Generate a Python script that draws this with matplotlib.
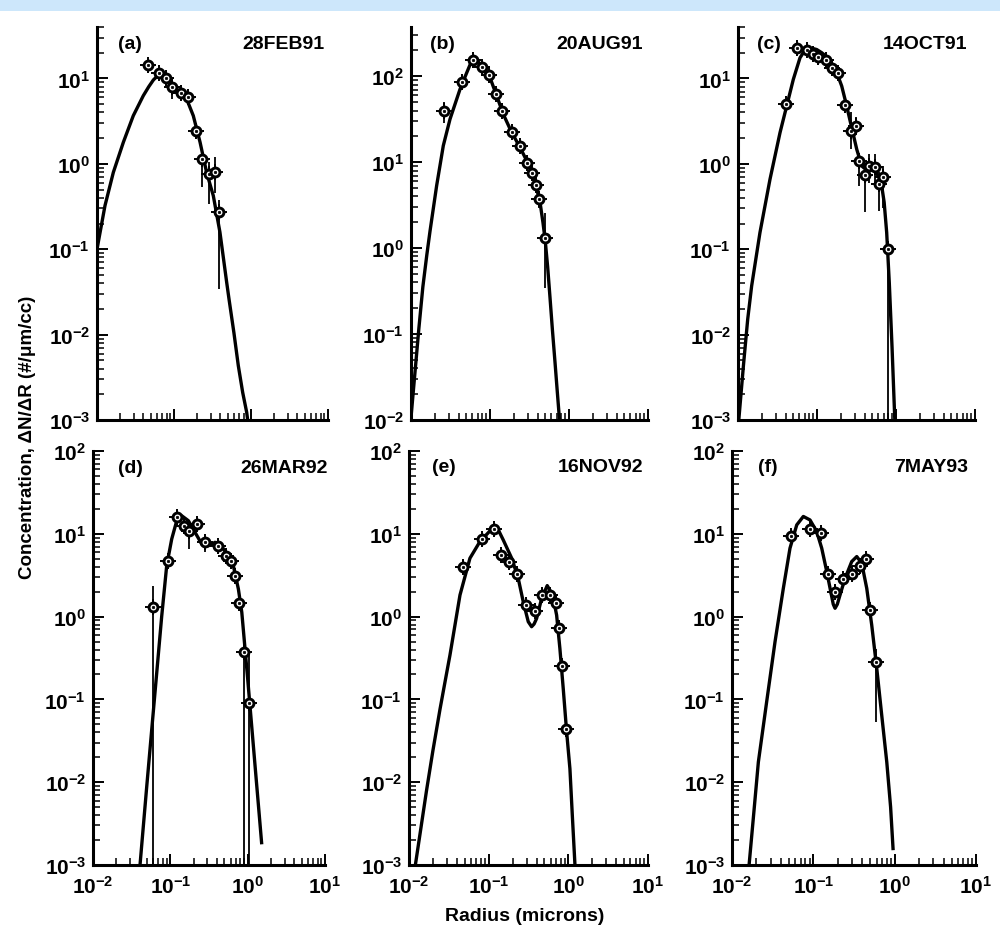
import numpy as np
import matplotlib
matplotlib.use("Agg")
import matplotlib.pyplot as plt
from matplotlib.ticker import LogLocator, FuncFormatter, NullFormatter
from matplotlib.patches import Rectangle

plt.rcParams.update({
    "font.family": ["Liberation Sans", "DejaVu Sans"],
    "font.weight": "bold",
    "mathtext.fontset": "custom",
    "mathtext.rm": "Liberation Sans:bold",
    "mathtext.bf": "Liberation Sans:bold",
    "mathtext.it": "Liberation Sans:bold:italic",
    "mathtext.sf": "Liberation Sans:bold",
})

# ---------------- measured size distributions (radius in microns, dN/dR in #/um/cc)
# (a) 28FEB91
a_radius = [0.046, 0.064, 0.079, 0.095, 0.123, 0.151, 0.193, 0.233, 0.285, 0.340, 0.384]
a_conc = [14.5, 11.6, 10.0, 8.0, 6.7, 6.0, 2.44, 1.14, 0.77, 0.81, 0.27]
a_err_lo = [13.0, 10.5, 8.8, 5.7, 6.0, 5.4, 2.0, 0.53, 0.34, 0.45, 0.034]
a_err_hi = [16.0, 12.8, 11.2, 9.5, 7.5, 6.6, 3.0, 1.42, 1.04, 1.2, 0.38]
a_fit_radius = [0.0101, 0.0127, 0.0163, 0.0220, 0.0296, 0.0399, 0.047, 0.054, 0.061, 0.068,
                0.079, 0.098, 0.125, 0.146, 0.178, 0.218, 0.265, 0.324, 0.395, 0.483,
                0.518, 0.60, 0.684, 0.78, 0.879, 0.905]
a_fit_conc = [0.105, 0.324, 0.794, 1.79, 3.66, 6.27, 8.0, 9.6, 10.7, 11.1,
              10.4, 8.1, 6.6, 5.74, 3.66, 1.79, 0.794, 0.423, 0.158, 0.041,
              0.0261, 0.0105, 0.00433, 0.0021, 0.00123, 0.001]

# (b) 20AUG91
b_radius = [0.0264, 0.0447, 0.0615, 0.0785, 0.097, 0.118, 0.143, 0.188, 0.240, 0.296,
            0.340, 0.382, 0.42, 0.497]
b_conc = [39, 86, 157, 128, 104, 63, 39, 22.3, 15.6, 9.8, 7.5, 5.4, 3.76, 1.33]
b_err_lo = [29, 76, 140, 115, 95, 56, 34, 19.5, 13.6, 8.6, 6.5, 4.6, 2.9, 0.34]
b_err_hi = [50, 97, 178, 142, 115, 71, 44, 25.5, 18, 11.2, 8.6, 6.3, 4.6, 2.6]
b_fit_radius = [0.0100, 0.01122, 0.01259, 0.01413, 0.01585, 0.01742, 0.02113, 0.02564,
                0.03119, 0.04169, 0.0507, 0.0562, 0.0615, 0.0708, 0.0822, 0.100, 0.1216,
                0.1472, 0.1879, 0.2399, 0.3055, 0.3715, 0.4295, 0.4677, 0.5012, 0.537,
                0.5754, 0.6166, 0.6653, 0.7079, 0.7586]
b_fit_conc = [0.0107, 0.0355, 0.1175, 0.355, 0.832, 1.585, 5.36, 15.6,
              31.8, 70.6, 110, 138, 157, 148, 126, 96.6, 59.2,
              36.3, 22.3, 14.9, 9.55, 5.86, 3.44, 2.0, 1.20, 0.603,
              0.263, 0.112, 0.0468, 0.0224, 0.0100]

# (c) 14OCT91
c_radius = [0.0405, 0.0553, 0.074, 0.088, 0.104, 0.129, 0.153, 0.186, 0.226, 0.267,
            0.312, 0.344, 0.405, 0.459, 0.542, 0.61, 0.69, 0.785]
c_conc = [4.97, 22.9, 21.8, 19.1, 17.9, 16.3, 13.3, 11.6, 4.83, 2.42,
          2.77, 1.08, 0.73, 0.94, 0.93, 0.575, 0.71, 0.1]
c_err_lo = [4.3, 20, 19, 16.5, 15.5, 14, 11.5, 10.2, 4.2, 1.48,
            2.2, 0.55, 0.27, 0.6, 0.55, 0.28, 0.3, 0.0002]
c_err_hi = [5.7, 26, 24.5, 21.5, 20, 18.5, 15, 13, 5.6, 4.0,
            3.5, 1.3, 1.0, 1.3, 1.3, 0.8, 0.95, 0.12]
c_fit_radius = [0.01023, 0.01175, 0.01327, 0.01489, 0.01897, 0.02541, 0.03404, 0.0413,
                0.05012, 0.06095, 0.06918, 0.07762, 0.08913, 0.0991, 0.1148, 0.1327,
                0.169, 0.2056, 0.2377, 0.2748, 0.3184, 0.3681, 0.4074, 0.4467, 0.542,
                0.6026, 0.6592, 0.7079, 0.7621, 0.8222, 0.8913, 0.966]
c_fit_conc = [0.001, 0.00447, 0.01514, 0.0372, 0.1567, 0.659, 2.32, 4.74,
              9.73, 17.46, 20.9, 22.2, 22.4, 21.8, 20.0, 17.9,
              13.3, 8.13, 4.74, 2.65, 1.48, 0.944, 0.871, 0.863, 0.824,
              0.708, 0.551, 0.355, 0.157, 0.0407, 0.00708, 0.001]

# (d) 26MAR92
d_radius = [0.0592, 0.094, 0.121, 0.150, 0.175, 0.22, 0.281, 0.418, 0.526, 0.61,
            0.687, 0.774, 0.905, 1.05]
d_conc = [1.29, 4.73, 16.1, 12.5, 10.7, 13.1, 7.9, 7.2, 5.44, 4.66, 3.12, 1.45, 0.37, 0.09]
d_err_lo = [0.0003, 4.2, 14.5, 11.2, 6.5, 11.8, 6.0, 6.5, 4.9, 4.2, 2.8, 1.3, 0.0003, 0.0003]
d_err_hi = [2.35, 5.3, 18.5, 14.0, 12.0, 14.5, 9.0, 8.0, 6.0, 5.2, 3.5, 1.6, 0.42, 0.40]
d_fit_radius = [0.04055, 0.04955, 0.05741, 0.06668, 0.07727, 0.08974, 0.1042, 0.1211,
                0.1406, 0.171, 0.2089, 0.2547, 0.3105, 0.3784, 0.4395, 0.537, 0.6531,
                0.7586, 0.8395, 0.9247, 1.0, 1.122, 1.259, 1.413, 1.514]
d_fit_conc = [0.001, 0.00891, 0.0427, 0.209, 1.0, 4.12, 8.65, 14.4,
              16.5, 14.4, 10.4, 7.53, 7.18, 7.89, 7.53, 5.70, 4.12,
              2.15, 1.127, 0.407, 0.178, 0.0501, 0.0141, 0.00398, 0.00186]

# (e) 16NOV92
e_radius = [0.0472, 0.083, 0.1175, 0.1426, 0.18, 0.229, 0.294, 0.381, 0.47, 0.587,
            0.698, 0.755, 0.838, 0.925]
e_conc = [3.94, 8.67, 11.4, 5.55, 4.62, 3.27, 1.38, 1.18, 1.82, 1.82, 1.46, 0.733, 0.252, 0.044]
e_err_lo = [3.3, 7.2, 10.3, 4.8, 4.1, 2.9, 1.25, 1.05, 1.45, 1.65, 1.32, 0.66, 0.22, 0.038]
e_err_hi = [4.8, 10.3, 13.0, 6.5, 5.2, 3.7, 1.55, 1.32, 2.2, 2.0, 1.62, 0.82, 0.29, 0.051]
e_fit_radius = [0.01202, 0.01413, 0.0166, 0.01995, 0.02449, 0.02818, 0.03266, 0.04365,
                0.05821, 0.0778, 0.1038, 0.12, 0.1349, 0.1524, 0.1945, 0.235, 0.2716,
                0.3141, 0.3459, 0.3715, 0.3999, 0.4624, 0.5433, 0.6353, 0.7129, 0.7834,
                0.863, 0.9528, 1.047, 1.122, 1.211]
e_fit_conc = [0.001, 0.00282, 0.00794, 0.024, 0.0759, 0.1585, 0.342, 1.82,
              5.07, 8.07, 10.84, 11.7, 10.7, 8.43, 5.07, 2.90, 1.51,
              0.867, 0.755, 0.813, 0.95, 1.66, 2.37, 1.82, 1.042, 0.412,
              0.135, 0.0403, 0.01452, 0.00398, 0.001]

# (f) 7MAY93
f_radius = [0.0527, 0.091, 0.1245, 0.150, 0.185, 0.234, 0.302, 0.375, 0.44, 0.498, 0.59]
f_conc = [9.4, 11.4, 10.2, 3.24, 2.0, 2.82, 3.27, 4.1, 4.93, 1.2, 0.284]
f_err_lo = [8.6, 9.5, 9.0, 2.8, 1.7, 2.5, 2.9, 3.6, 4.4, 1.08, 0.053]
f_err_hi = [10.3, 12.8, 11.5, 3.8, 2.4, 3.2, 3.7, 4.8, 5.6, 1.35, 0.41]
f_fit_radius = [0.01622, 0.01862, 0.02109, 0.02667, 0.03381, 0.04276, 0.05164, 0.06252,
                0.07534, 0.09099, 0.1099, 0.1268, 0.1462, 0.1637, 0.1758, 0.1849, 0.1972,
                0.2128, 0.2455, 0.2965, 0.342, 0.3936, 0.4539, 0.5224, 0.6026, 0.6934,
                0.7998, 0.8913, 0.955]
f_fit_conc = [0.001, 0.00447, 0.0175, 0.0933, 0.497, 2.19, 6.70, 12.8,
              16.2, 14.7, 10.67, 6.70, 3.50, 2.0, 1.41, 1.26, 1.41,
              1.82, 2.90, 4.62, 5.31, 4.41, 2.19, 0.789, 0.236, 0.0643,
              0.0175, 0.00501, 0.00158]

panel_tags = ["(a)", "(b)", "(c)", "(d)", "(e)", "(f)"]
panel_dates = ["28FEB91", "20AUG91", "14OCT91", "26MAR92", "16NOV92", "7MAY93"]
y_limits = [(1e-3, 40), (1e-2, 375), (1e-3, 40), (1e-3, 1e2), (1e-3, 1e2), (1e-3, 1e2)]

panels = [
    (a_radius, a_conc, a_err_lo, a_err_hi, a_fit_radius, a_fit_conc),
    (b_radius, b_conc, b_err_lo, b_err_hi, b_fit_radius, b_fit_conc),
    (c_radius, c_conc, c_err_lo, c_err_hi, c_fit_radius, c_fit_conc),
    (d_radius, d_conc, d_err_lo, d_err_hi, d_fit_radius, d_fit_conc),
    (e_radius, e_conc, e_err_lo, e_err_hi, e_fit_radius, e_fit_conc),
    (f_radius, f_conc, f_err_lo, f_err_hi, f_fit_radius, f_fit_conc),
]

# axes rectangles in figure fractions [left, bottom, width, height]
rects = [
    [0.097, 0.5507, 0.231, 0.4194],
    [0.411, 0.5507, 0.237, 0.4194],
    [0.738, 0.5507, 0.237, 0.4194],
    [0.093, 0.0758, 0.232, 0.4418],
    [0.409, 0.0758, 0.239, 0.4418],
    [0.732, 0.0758, 0.244, 0.4418],
]
tag_x = [0.09, 0.08, 0.08, 0.108, 0.096, 0.107]
date_x = [0.987, 0.98, 0.966, 1.01, 0.98, 0.967]
text_y = [0.959, 0.959, 0.959, 0.959, 0.963, 0.963]

fig = plt.figure(figsize=(10.0, 9.37), dpi=100)
fig.patches.append(Rectangle((0, 1 - 12 / 937), 1, 12 / 937, transform=fig.transFigure,
                             facecolor="#cde7fb", edgecolor="none", zorder=0))

decade_fmt = FuncFormatter(lambda val, pos: r"$\mathbf{10^{%d}}$" % int(round(np.log10(val))))

for i, (r, v, lo, hi, fr, fv) in enumerate(panels):
    ax = fig.add_axes(rects[i])
    ax.set_xscale("log")
    ax.set_yscale("log")
    ax.plot(fr, fv, color="black", lw=2.4, zorder=2, solid_joinstyle="round")
    ax.vlines(r, lo, hi, colors="black", lw=1.3, zorder=3)
    # data symbol: ring with a centre dot and short cross-hair stubs
    ax.plot(r, v, ls="none", marker="+", ms=11, mew=1.4, color="black", zorder=3.5)
    ax.plot(r, v, ls="none", marker="o", ms=6.4, mfc="white", mec="black", mew=2.1, zorder=4)
    ax.plot(r, v, ls="none", marker="o", ms=1.8, mfc="black", mec="black", mew=0.5, zorder=5)
    ax.set_xlim(1e-2, 1e1)
    ax.set_ylim(*y_limits[i])

    for s in ("top", "right"):
        ax.spines[s].set_visible(False)
    for s in ("left", "bottom"):
        ax.spines[s].set_linewidth(2.2)

    for axis in (ax.xaxis, ax.yaxis):
        axis.set_major_locator(LogLocator(base=10, numticks=12))
        axis.set_minor_locator(LogLocator(base=10, subs=np.arange(2, 10), numticks=12))
        axis.set_minor_formatter(NullFormatter())
        axis.set_major_formatter(decade_fmt)
    ax.tick_params(which="both", direction="in", top=False, right=False)
    ax.tick_params(which="major", length=8, width=1.4, labelsize=15, pad=5)
    ax.tick_params(which="minor", length=5, width=1.1)
    if i < 3:
        ax.tick_params(axis="x", which="both", labelbottom=False)
    else:
        ax.tick_params(axis="x", which="major", pad=7)

    ax.text(tag_x[i], text_y[i], panel_tags[i], transform=ax.transAxes,
            fontsize=14, fontweight="bold", ha="left", va="center")
    ax.text(date_x[i], text_y[i], panel_dates[i], transform=ax.transAxes,
            fontsize=14, fontweight="bold", ha="right", va="center")

fig.text(0.028, 0.533, "Concentration, \u0394N/\u0394R (#/\u03bcm/cc)", rotation=90,
         ha="center", va="center", fontsize=13.5, fontweight="bold")
fig.text(0.525, 1 - 917 / 937, "Radius (microns)", ha="center", va="center",
         fontsize=14, fontweight="bold")

fig.savefig("out.png", dpi=100, facecolor="white")
